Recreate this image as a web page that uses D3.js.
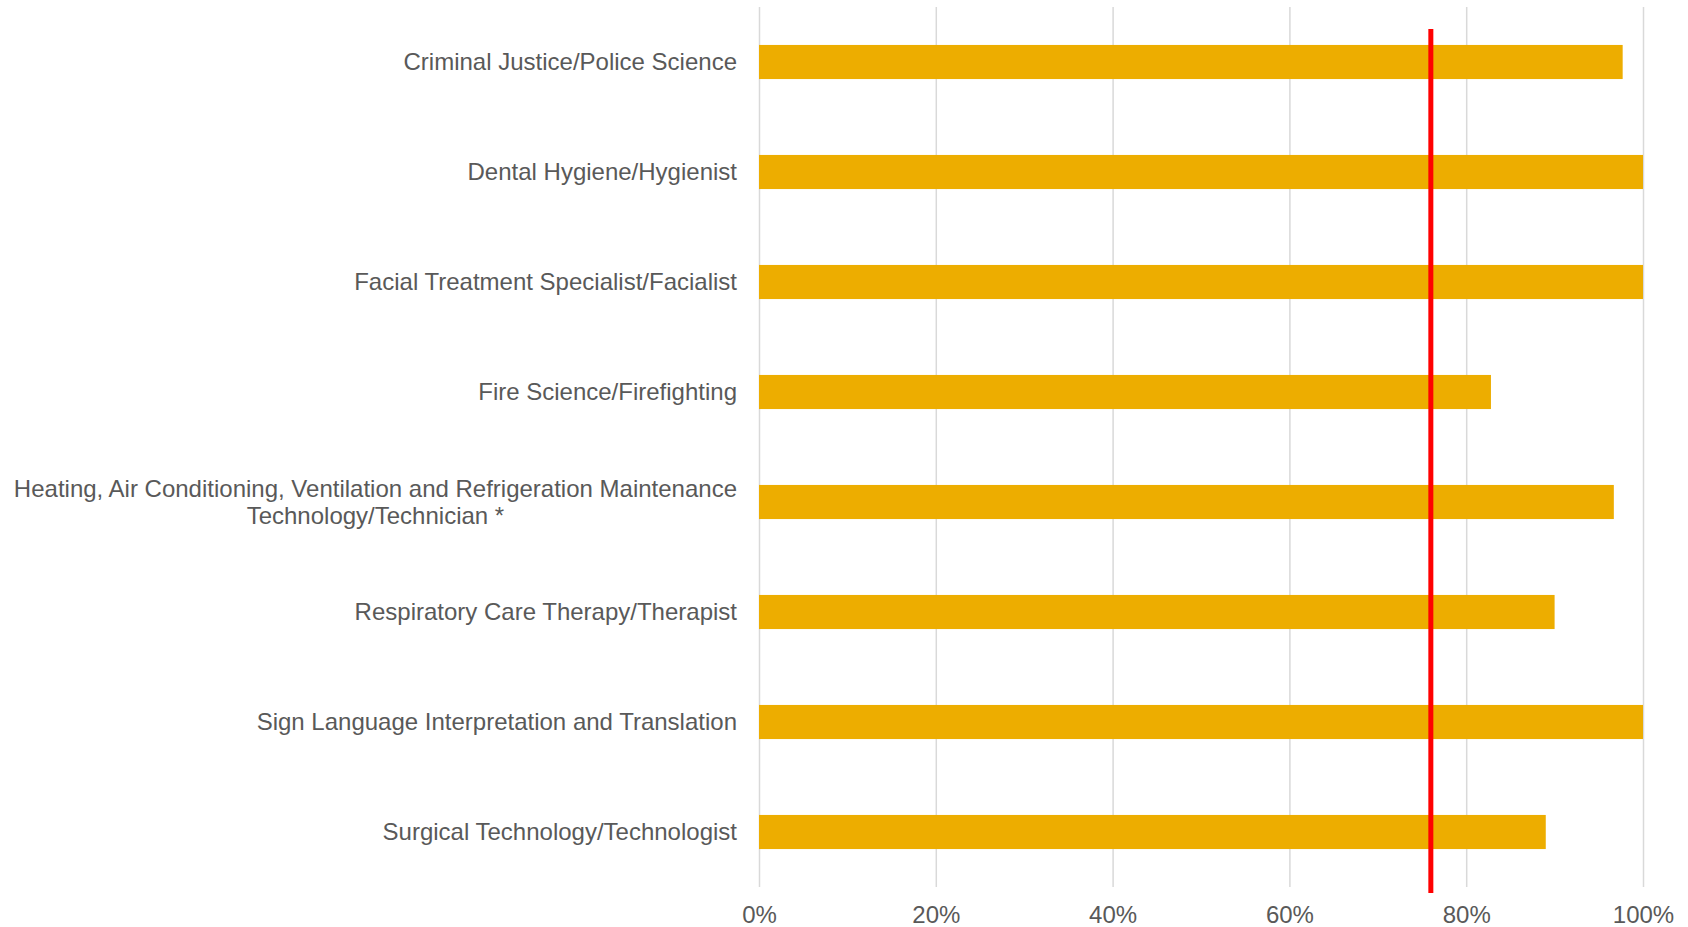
<!DOCTYPE html>
<html>
<head>
<meta charset="utf-8">
<script src="https://cdn.jsdelivr.net/npm/d3@7"></script>
<style>
  body { margin: 0; background: #fff; }
  svg text { font-family: "Liberation Sans", Arial, sans-serif; fill: #595959; }
</style>
</head>
<body>
<div class="chartContainer"></div>
<script>
// ----------------------------------------------
// data
// ----------------------------------------------
var programs = [
    "Criminal Justice/Police Science",
    "Dental Hygiene/Hygienist",
    "Facial Treatment Specialist/Facialist",
    "Fire Science/Firefighting",
    "Heating, Air Conditioning, Ventilation and Refrigeration Maintenance|Technology/Technician *",
    "Respiratory Care Therapy/Therapist",
    "Sign Language Interpretation and Translation",
    "Surgical Technology/Technologist"
];
var rates = [0.977, 1.0, 1.0, 0.828, 0.967, 0.90, 1.0, 0.89];
var target = 0.76;
var xTicks = [0, 0.2, 0.4, 0.6, 0.8, 1.0];

//constants
var WIDTH = 1688, HEIGHT = 927;
var MARGIN = {top: 7, right: 45, bottom: 40, left: 759};
var LABEL_GAP = 22;
var FONT_SIZE = 24;
var LINE_HEIGHT = 27;
var BAR_COLOR = "#EDAD00";
var TARGET_COLOR = "#FF0000";
var GRID_COLOR = "#D9D9D9";

var svg = d3.select(".chartContainer")
    .append("svg")
    .attr("width", WIDTH)
    .attr("height", HEIGHT);

var x = d3.scaleLinear()
    .domain([0, 1])
    .range([MARGIN.left, WIDTH - MARGIN.right]);

var y = d3.scaleBand()
    .domain(programs)
    .range([MARGIN.top, HEIGHT - MARGIN.bottom])
    .paddingInner(0.69)
    .paddingOuter(0.345);

var rows = programs.map(function(p, i){ return {name: p, value: rates[i]}; });

// vertical grid + tick labels through d3.axisBottom
var axis = svg.append("g")
    .attr("transform", "translate(0," + (HEIGHT - MARGIN.bottom) + ")")
    .call(d3.axisBottom(x)
        .tickValues(xTicks)
        .tickFormat(d3.format(".0%"))
        .tickSize(-(HEIGHT - MARGIN.bottom - MARGIN.top))
        .tickPadding(28));

axis.select(".domain").remove();
axis.selectAll(".tick line")
    .attr("stroke", GRID_COLOR)
    .attr("stroke-width", 1.5);
axis.selectAll(".tick text")
    .attr("font-size", FONT_SIZE)
    .attr("dy", "0.35em")
    .attr("y", 28)
    .style("fill", "#595959");

// bars
svg.selectAll(".bar")
    .data(rows)
  .enter().append("rect")
    .attr("class", "bar")
    .attr("x", x(0))
    .attr("y", function(d){ return y(d.name); })
    .attr("width", function(d){ return x(d.value) - x(0); })
    .attr("height", y.bandwidth())
    .attr("fill", BAR_COLOR);

// category labels, wrapped lines are centred inside a right aligned block
var labels = svg.selectAll(".label")
    .data(rows)
  .enter().append("text")
    .attr("class", "label")
    .attr("font-size", FONT_SIZE)
    .each(function(d){
        var t = d3.select(this);
        var lines = d.name.split("|");
        var cy = y(d.name) + y.bandwidth() / 2;
        var y0 = cy - (lines.length - 1) * LINE_HEIGHT / 2;
        lines.forEach(function(l, i){
            t.append("tspan")
                .attr("y", y0 + i * LINE_HEIGHT)
                .attr("dy", "0.35em")
                .text(l);
        });
        var maxW = 0;
        t.selectAll("tspan").each(function(){ maxW = Math.max(maxW, this.getComputedTextLength()); });
        var right = x(0) - LABEL_GAP;
        if (lines.length > 1) {
            t.attr("text-anchor", "middle");
            t.selectAll("tspan").attr("x", right - maxW / 2);
        } else {
            t.attr("text-anchor", "end");
            t.selectAll("tspan").attr("x", right);
        }
    });

// target line
svg.append("line")
    .attr("class", "target")
    .attr("x1", x(target))
    .attr("x2", x(target))
    .attr("y1", y(programs[0]) - 16)
    .attr("y2", y.range()[1] + 6)
    .attr("stroke", TARGET_COLOR)
    .attr("stroke-width", 5);
</script>
</body>
</html>
